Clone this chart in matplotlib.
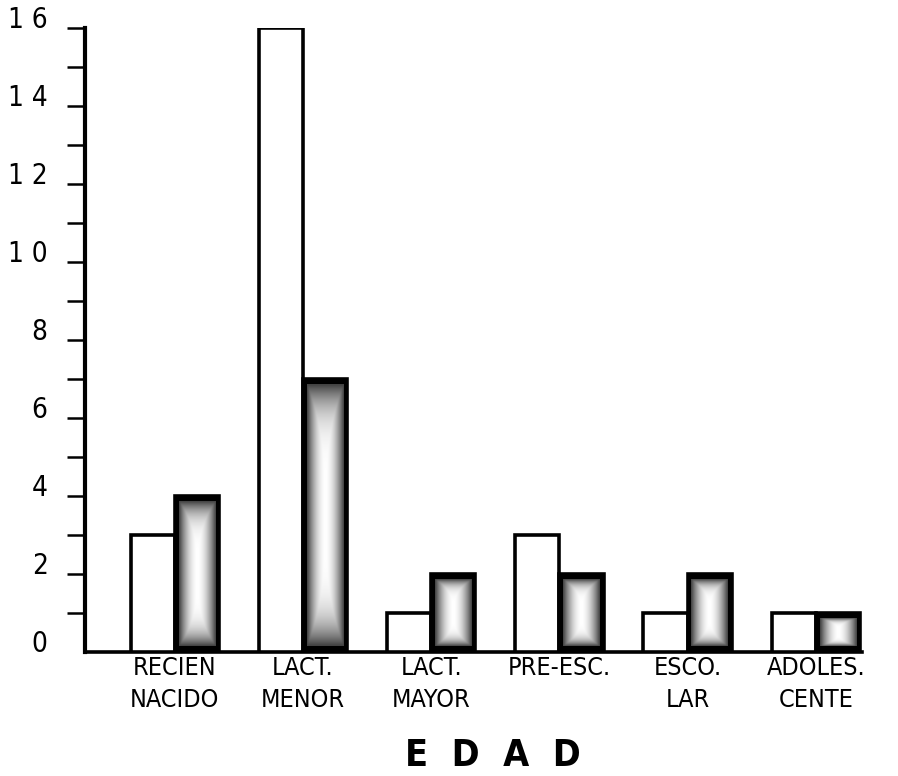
import numpy as np
import matplotlib
matplotlib.use("Agg")
import matplotlib.pyplot as plt

# datos
categorias = ["RECIEN\nNACIDO", "LACT.\nMENOR", "LACT.\nMAYOR",
              "PRE-ESC.\n", "ESCO.\nLAR", "ADOLES.\nCENTE"]
serie_blanca = [3, 16, 1, 3, 1, 1]
serie_oscura = [4, 7, 2, 2, 2, 1]
yticks = [0, 2, 4, 6, 8, 10, 12, 14, 16]
ytick_labels = ["0", "2", "4", "6", "8", "1 0", "1 2", "1 4", "1 6"]

plt.rcParams['font.family'] = ['DejaVu Sans']
plt.rcParams['font.stretch'] = 'condensed'

fig = plt.figure(figsize=(8.98, 7.76), dpi=100)
ax = fig.add_axes([0.0947, 0.160, 0.868, 0.804])

x = np.arange(len(categorias))
w = 0.345

ax.bar(x - w / 2, serie_blanca, width=w, facecolor='white',
       edgecolor='black', linewidth=2.6, zorder=3)

# relleno punteado: degradado claro en el centro, negro en los bordes
gx = np.linspace(-1, 1, 60)
gy = np.linspace(-1, 1, 200)
GX, GY = np.meshgrid(gx, gy)
grad = np.clip(1 - np.maximum(np.abs(GX) ** 1.8, np.abs(GY) ** 5), 0, 1)
for xi, v in zip(x, serie_oscura):
    b = ax.bar(xi + w / 2, v, width=w, facecolor='black',
               edgecolor='black', linewidth=2.6, zorder=3)[0]
    x0, x1 = xi + 0.03, xi + w - 0.03
    y0, y1 = 0.15, v - 0.15
    im = ax.imshow(grad, extent=[x0, x1, y0, y1], cmap='gray',
                   vmin=-0.35, vmax=1.0, aspect='auto', zorder=4,
                   interpolation='bicubic')
    im.set_clip_path(b)

ax.set_xlim(-0.70, 5.38)
ax.set_ylim(0, 16)

ax.spines['top'].set_visible(False)
ax.spines['right'].set_visible(False)
ax.spines['left'].set_linewidth(3)
ax.spines['bottom'].set_linewidth(2.6)
ax.spines['bottom'].set_bounds(-0.70, 5.36)

ax.set_yticks(yticks)
ax.set_yticklabels(ytick_labels, fontsize=20)
ax.set_yticks(np.arange(1, 16, 2), minor=True)
ax.tick_params(axis='y', which='both', direction='out', length=13,
               width=1.8, pad=14)
for lbl in ax.get_yticklabels():
    lbl.set_va('baseline')
ax.yaxis.get_major_ticks()[0].tick1line.set_visible(False)

ax.set_xticks(x)
ax.set_xticklabels(categorias, fontsize=18, linespacing=1.4)
ax.tick_params(axis='x', length=0, pad=3)

fig.text(0.549, 0.002, "E  D  A  D", fontsize=27, fontweight='bold',
         ha='center', va='bottom')

fig.savefig("out.png", dpi=100)
